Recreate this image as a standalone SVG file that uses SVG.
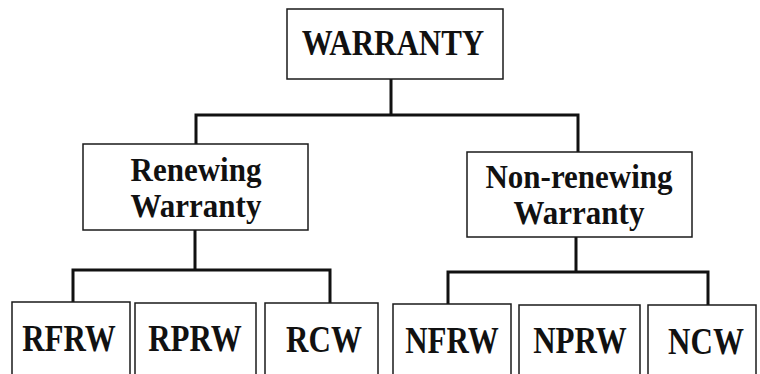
<svg xmlns="http://www.w3.org/2000/svg" width="760" height="374" viewBox="0 0 760 374">
<style>
.box{fill:#fff;stroke:#1a1a1a;stroke-width:1.5}
.lbl{font-family:"Liberation Serif","Times New Roman",serif;font-weight:bold;font-size:31px;fill:#111;text-anchor:middle}
.con{fill:none;stroke:#111;stroke-width:3;stroke-linejoin:miter;stroke-linecap:square}
</style>
<rect width="760" height="374" fill="#fff"/>
<g id="connectors">
<path class="con" d="M391 79 V115 M196 144 V115 H578 V152"/>
<path class="con" d="M195 230 V270 M73 302 V270 H330 V303"/>
<path class="con" d="M576 237 V272 M448 304 V272 H708 V305"/>
</g>
<g id="warranty">
<rect class="box" x="287" y="9" width="216" height="70"/>
<text class="lbl" transform="translate(393,55) scale(1,1.15)">WARRANTY</text>
</g>
<g id="renewing">
<rect class="box" x="83" y="144" width="225" height="86"/>
<text class="lbl" transform="translate(196,181) scale(1,1.08)">Renewing</text>
<text class="lbl" transform="translate(196,217) scale(1,1.08)">Warranty</text>
</g>
<g id="nonrenewing">
<rect class="box" x="467" y="152" width="225" height="85"/>
<text class="lbl" transform="translate(579,188) scale(1,1.08)">Non-renewing</text>
<text class="lbl" transform="translate(579,224) scale(1,1.08)">Warranty</text>
</g>
<g id="rfrw">
<rect class="box" x="12" y="302" width="118" height="90"/>
<text class="lbl" transform="translate(69,351) scale(1,1.2)">RFRW</text>
</g>
<g id="rprw">
<rect class="box" x="135" y="303" width="121" height="90"/>
<text class="lbl" transform="translate(195,351) scale(1,1.2)">RPRW</text>
</g>
<g id="rcw">
<rect class="box" x="265" y="303" width="113" height="90"/>
<text class="lbl" transform="translate(324,352) scale(1,1.2)">RCW</text>
</g>
<g id="nfrw">
<rect class="box" x="393" y="304" width="118" height="90"/>
<text class="lbl" transform="translate(452,353) scale(1,1.2)">NFRW</text>
</g>
<g id="nprw">
<rect class="box" x="519" y="305" width="121" height="90"/>
<text class="lbl" transform="translate(580,353) scale(1,1.2)">NPRW</text>
</g>
<g id="ncw">
<rect class="box" x="648" y="305" width="108" height="90"/>
<text class="lbl" transform="translate(706,354) scale(1,1.2)">NCW</text>
</g>
</svg>
